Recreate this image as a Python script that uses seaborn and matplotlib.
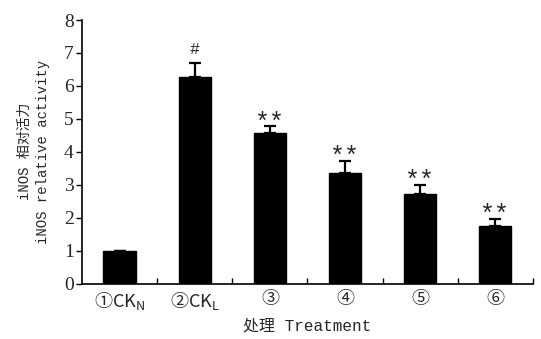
import matplotlib
matplotlib.use("Agg")
import matplotlib.pyplot as plt
import seaborn as sns
import pandas as pd
import numpy as np
from matplotlib.ticker import FixedLocator

# ---- data ----
categories = ["①CK$_\\mathregular{N}$", "②CK$_\\mathregular{L}$", "③", "④", "⑤", "⑥"]
values = [1.0, 6.27, 4.58, 3.35, 2.72, 1.75]
errors = [0.0, 0.42, 0.19, 0.38, 0.27, 0.21]
marks = ["", "#", "**", "**", "**", "**"]

sns.set_theme(style="white")
plt.rcParams['font.family'] = ['Liberation Serif', 'Noto Sans CJK SC', 'DejaVu Sans']
plt.rcParams['mathtext.fontset'] = 'custom'
plt.rcParams['mathtext.rm'] = 'Liberation Serif'

df = pd.DataFrame({"cat": categories, "val": values})

fig = plt.figure(figsize=(5.41, 3.39), dpi=100)
ax = fig.add_axes([0.1516, 0.1637, 0.985 - 0.1516, 0.941 - 0.1637])

sns.barplot(data=df, x="cat", y="val", color="black", width=0.43,
            saturation=1, ax=ax, errorbar=None, edgecolor="black")

x = np.arange(len(categories))
ax.errorbar(x, values, yerr=[np.zeros(len(errors)), errors], fmt="none",
            ecolor="black", elinewidth=1.6, capsize=4, capthick=1.6)

for xi, v, e, m in zip(x, values, errors, marks):
    if not m:
        continue
    if m == "#":
        ax.text(xi, v + e + 0.2, m, ha="center", va="bottom", fontsize=12,
                family=['Liberation Mono'])
    else:
        ax.text(xi, v + e - 0.25, m, ha="center", va="bottom", fontsize=18,
                family=['Liberation Mono'])

ax.set_xlim(-0.5, 5.5)
ax.set_ylim(0, 8)
ax.set_yticks(range(0, 9))
ax.set_yticklabels([str(i) for i in range(0, 9)], fontsize=14)
ax.set_xticks(x)
ax.set_xticklabels(categories, fontsize=13,
                   family=['Noto Sans CJK SC', 'Liberation Serif'])
ax.xaxis.set_minor_locator(FixedLocator(np.arange(0.5, 6.0, 1.0)))
ax.tick_params(axis="x", which="major", length=0, pad=5)
ax.tick_params(axis="x", which="minor", direction="in", length=4, width=1, color="black", bottom=True)
ax.tick_params(axis="y", which="major", direction="out", length=4, width=1, color="black", left=True, pad=2)

for s in ["top", "right"]:
    ax.spines[s].set_visible(False)
for s in ["left", "bottom"]:
    ax.spines[s].set_color("black")
    ax.spines[s].set_linewidth(1.2)

ax.set_ylabel("iNOS 相对活力\niNOS relative activity", fontsize=10,
              family=['Liberation Mono', 'Noto Sans CJK SC'], labelpad=10, linespacing=1.35)
ax.set_xlabel("处理 Treatment", fontsize=11.5,
              family=['Liberation Mono', 'Noto Sans CJK SC'], labelpad=4)

fig.savefig("out.png", dpi=100, facecolor="white")
